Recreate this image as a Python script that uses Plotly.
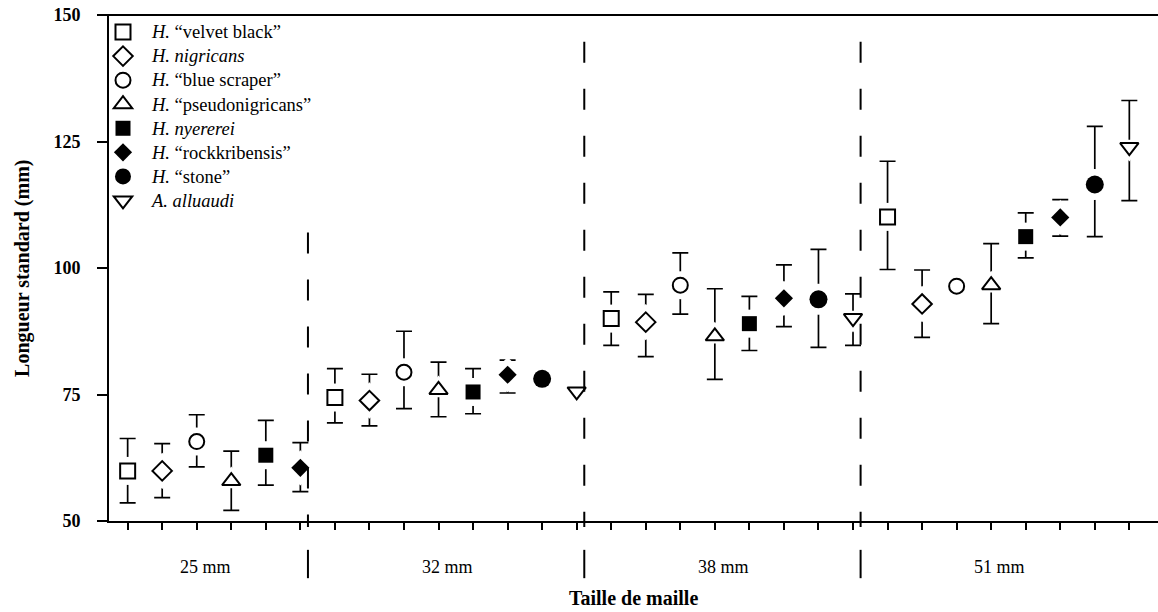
import plotly.graph_objects as go

# Mesh sizes (x groups) and species
mesh_sizes = ["25 mm", "32 mm", "38 mm", "51 mm"]
species_names = [
    "<i>H.</i> “velvet black”",
    "<i>H. nigricans</i>",
    "<i>H.</i> “blue scraper”",
    "<i>H.</i> “pseudonigricans”",
    "<i>H. nyererei</i>",
    "<i>H.</i> “rockkribensis”",
    "<i>H.</i> “stone”",
    "<i>A. alluaudi</i>",
]

# Mean standard length (mm) per mesh size, with upper / lower error-bar ends
velvet_black = [59.9, 74.4, 90.0, 110.1]
velvet_black_hi = [66.3, 80.1, 95.3, 121.1]
velvet_black_lo = [53.6, 69.4, 84.7, 99.7]

nigricans = [59.9, 73.8, 89.3, 92.9]
nigricans_hi = [65.3, 79.0, 94.8, 99.6]
nigricans_lo = [54.6, 68.8, 82.5, 86.3]

blue_scraper = [65.7, 79.4, 96.6, 96.4]
blue_scraper_hi = [71.0, 87.5, 103.0, None]
blue_scraper_lo = [60.7, 72.2, 90.9, None]

pseudonigricans = [57.9, 75.9, 86.5, 96.6]
pseudonigricans_hi = [63.8, 81.4, 95.9, 104.8]
pseudonigricans_lo = [52.1, 70.6, 78.0, 89.0]

nyererei = [63.0, 75.5, 89.0, 106.2]
nyererei_hi = [69.9, 80.1, 94.4, 110.9]
nyererei_lo = [57.1, 71.2, 83.7, 102.0]

rockkribensis = [60.5, 78.9, 94.0, 110.0]
rockkribensis_hi = [65.5, 81.8, 100.6, 113.5]
rockkribensis_lo = [55.8, 75.3, 88.4, 106.3]

stone = [None, 78.1, 93.8, 116.5]
stone_hi = [None, None, 103.7, 128.0]
stone_lo = [None, None, 84.3, 106.2]

alluaudi = [None, 75.6, 90.1, 123.9]
alluaudi_hi = [None, None, 94.9, 133.1]
alluaudi_lo = [None, None, 84.7, 113.3]

y_ticks = [50, 75, 100, 125, 150]

means = [velvet_black, nigricans, blue_scraper, pseudonigricans,
         nyererei, rockkribensis, stone, alluaudi]
highs = [velvet_black_hi, nigricans_hi, blue_scraper_hi, pseudonigricans_hi,
         nyererei_hi, rockkribensis_hi, stone_hi, alluaudi_hi]
lows = [velvet_black_lo, nigricans_lo, blue_scraper_lo, pseudonigricans_lo,
        nyererei_lo, rockkribensis_lo, stone_lo, alluaudi_lo]

symbols = ["square", "diamond", "circle", "triangle-up",
           "square", "diamond", "circle", "triangle-down"]
filled = [False, False, False, False, True, True, True, False]
msizes = [15, 15, 15, 16, 15, 14, 18, 16]

FONT = "Liberation Serif, Times New Roman, serif"

# Sequential slot positions: species side by side inside each mesh group
xs = [[None] * len(mesh_sizes) for _ in means]
group_slots = [[] for _ in mesh_sizes]
k = 0
for g in range(len(mesh_sizes)):
    for s in range(len(means)):
        if means[s][g] is not None:
            xs[s][g] = k
            group_slots[g].append(k)
            k += 1
all_slots = list(range(k))
boundaries = [max(sl) + 0.22 for sl in group_slots[:-1]]

fig = go.Figure()

# Error bars (drawn first, markers cover their centre)
for s in range(len(means)):
    ex, ey, eu, el = [], [], [], []
    for g in range(len(mesh_sizes)):
        if means[s][g] is not None and highs[s][g] is not None:
            ex.append(xs[s][g])
            ey.append(means[s][g])
            eu.append(round(highs[s][g] - means[s][g], 2))
            el.append(round(means[s][g] - lows[s][g], 2))
    fig.add_trace(go.Scatter(
        x=ex, y=ey, mode="markers", showlegend=False, hoverinfo="skip",
        marker=dict(size=1, opacity=0),
        error_y=dict(type="data", symmetric=False, array=eu, arrayminus=el,
                     color="black", thickness=1.7, width=8),
    ))

# White halos leaving a small gap between marker and error bar
for s in range(len(means)):
    px = [xs[s][g] for g in range(len(mesh_sizes)) if means[s][g] is not None]
    py = [means[s][g] for g in range(len(mesh_sizes)) if means[s][g] is not None]
    fig.add_trace(go.Scatter(
        x=px, y=py, mode="markers", showlegend=False, hoverinfo="skip",
        marker=dict(symbol=symbols[s], size=msizes[s] + 13, color="white",
                    line=dict(width=0)),
    ))

# Species markers
for s in range(len(means)):
    px = [xs[s][g] for g in range(len(mesh_sizes)) if means[s][g] is not None]
    py = [means[s][g] for g in range(len(mesh_sizes)) if means[s][g] is not None]
    fig.add_trace(go.Scatter(
        x=px, y=py, mode="markers",
        name=f"<span style='font-size:18.5px'>{species_names[s]}</span>",
        marker=dict(symbol=symbols[s], size=msizes[s],
                    color="black" if filled[s] else "white",
                    line=dict(color="black", width=0 if filled[s] else 2)),
    ))

shapes = []
# Dashed separators between mesh groups
for i, b in enumerate(boundaries):
    top = (107 - 50) / 100 if i == 0 else (144.7 - 50) / 100
    shapes.append(dict(type="line", xref="x", yref="paper", x0=b, x1=b,
                       y0=top, y1=-0.012,
                       line=dict(color="black", width=2, dash="21px,26px")))
    # short solid separator between the group labels
    shapes.append(dict(type="line", xref="x", yref="paper", x0=b, x1=b,
                       y0=-0.057, y1=-0.113,
                       line=dict(color="black", width=2)))
# top frame line
shapes.append(dict(type="line", xref="paper", yref="paper", x0=-0.01, x1=1,
                   y0=1, y1=1, line=dict(color="black", width=2)))

annotations = []
for g, label in enumerate(mesh_sizes):
    cx = sum(group_slots[g]) / len(group_slots[g]) - 0.25
    annotations.append(dict(x=cx, y=-0.09, xref="x", yref="paper",
                            text=label, showarrow=False, yanchor="middle",
                            font=dict(family=FONT, size=18, color="black")))
annotations.append(dict(x=0.5, y=-0.152, xref="paper", yref="paper",
                        text="<b>Taille de maille</b>", showarrow=False,
                        yanchor="middle",
                        font=dict(family=FONT, size=20, color="black")))
annotations.append(dict(x=-0.083, y=0.5, xref="paper", yref="paper",
                        text="<b>Longueur standard (mm)</b>", showarrow=False,
                        textangle=-90, xanchor="center", yanchor="middle",
                        font=dict(family=FONT, size=20, color="black")))

fig.update_layout(
    width=1158, height=612,
    margin=dict(l=109, r=0, t=15, b=91),
    paper_bgcolor="white", plot_bgcolor="white",
    font=dict(family=FONT, color="black"),
    shapes=shapes, annotations=annotations,
    showlegend=True,
    legend=dict(x=-0.0143, y=1.0, xanchor="left", yanchor="top",
                bgcolor="rgba(0,0,0,0)", borderwidth=0,
                font=dict(family=FONT, size=16.2, color="black"),
                itemwidth=48, tracegroupgap=0),
    xaxis=dict(range=[-0.54, 29.83], tickvals=all_slots, showticklabels=False,
               ticks="outside", ticklen=7, tickwidth=1.5, tickcolor="black",
               showline=True, linecolor="black", linewidth=2,
               showgrid=False, zeroline=False, fixedrange=True),
    yaxis=dict(range=[50, 150], tickvals=y_ticks, ticks="outside", ticklen=10,
               tickwidth=1.5, tickcolor="black", ticklabelstandoff=13,
               tickfont=dict(family=FONT, size=18, color="black", weight="bold"),
               showline=True, linecolor="black", linewidth=2,
               showgrid=False, zeroline=False, fixedrange=True),
)

fig.write_html("out.html")
